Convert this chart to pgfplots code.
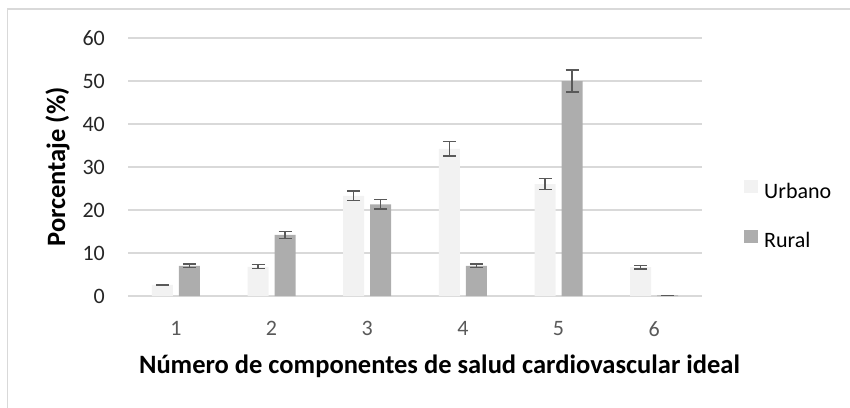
\documentclass[border=0pt]{standalone}
\usepackage{fontspec}
\setmainfont{Carlito}
\usepackage{pgfplots}
\pgfplotsset{compat=1.18}
\definecolor{urb}{HTML}{F2F2F2}
\definecolor{rur}{HTML}{ADADAD}
\definecolor{errc}{HTML}{595959}
\definecolor{gridc}{HTML}{D9D9D9}
\definecolor{tickc}{HTML}{595959}
\definecolor{ytickc}{HTML}{262626}
\begin{document}
\begin{tikzpicture}
\useasboundingbox (0,0) rectangle (850pt,407pt);
\draw[gridc, line width=1.2pt] (7.5pt,-5pt) -- (7.5pt,398pt) -- (855pt,398pt);
\begin{axis}[
 at={(128pt,111pt)}, anchor=south west,
 scale only axis, width=574pt, height=258pt,
 xmin=0.5, xmax=6.5, ymin=0, ymax=60,
 ybar=6pt, bar width=21pt,
 xtick={1,...,6}, ytick={0,10,...,60},
 axis line style={draw=none},
 major tick length=0pt,
 ymajorgrids, grid style={gridc, line width=1.2pt},
 /pgf/number format/assume math mode=true,
 tick label style={font=\fontsize{22}{26}\selectfont, inner sep=0pt},
 yticklabel style={xshift=-23pt, text=ytickc},
 xticklabel style={yshift=-25pt, text=tickc},
 xlabel={Número de componentes de salud cardiovascular ideal},
 ylabel={Porcentaje (\%)},
 label style={font=\fontsize{26.5}{30}\selectfont\bfseries},
 xlabel style={at={(axis description cs:0.5427,0)}, anchor=base, yshift=-77pt, inner sep=0pt},
 ylabel style={at={(axis description cs:-0.1228,0.5)}, anchor=center, inner sep=0pt},
 legend style={draw=none, fill=none, at={(rel axis cs:1.0732,0.4496)}, anchor=north west,
   inner sep=0pt, row sep=30pt, column sep=6pt,
   nodes={inner sep=0pt, font=\fontsize{22}{26}\selectfont, text=black}},
 legend cell align=left,
 legend image code/.code={\path[#1] (0pt,-2pt) rectangle (14pt,11pt);},
 error bars/y dir=both, error bars/y explicit,
 error bars/error bar style={errc, line width=1.3pt},
 error bars/error mark options={errc, line width=1.3pt, mark size=6.5pt, rotate=90},
]
\addplot[fill=urb, draw=none] coordinates {
 (1,2.6) +- (0,0.15)
 (2,6.8) +- (0,0.45)
 (3,23.3) +- (0,1.15)
 (4,34.2) +- (0,1.65)
 (5,26.0) +- (0,1.3)
 (6,6.7) +- (0,0.4)
};
\addplot[fill=rur, draw=none] coordinates {
 (1,7.0) +- (0,0.45)
 (2,14.2) +- (0,0.75)
 (3,21.3) +- (0,1.1)
 (4,7.0) +- (0,0.45)
 (5,50.0) +- (0,2.55)
 (6,0.15) +- (0,0)
};
\legend{Urbano, Rural}
\end{axis}
\end{tikzpicture}
\end{document}
